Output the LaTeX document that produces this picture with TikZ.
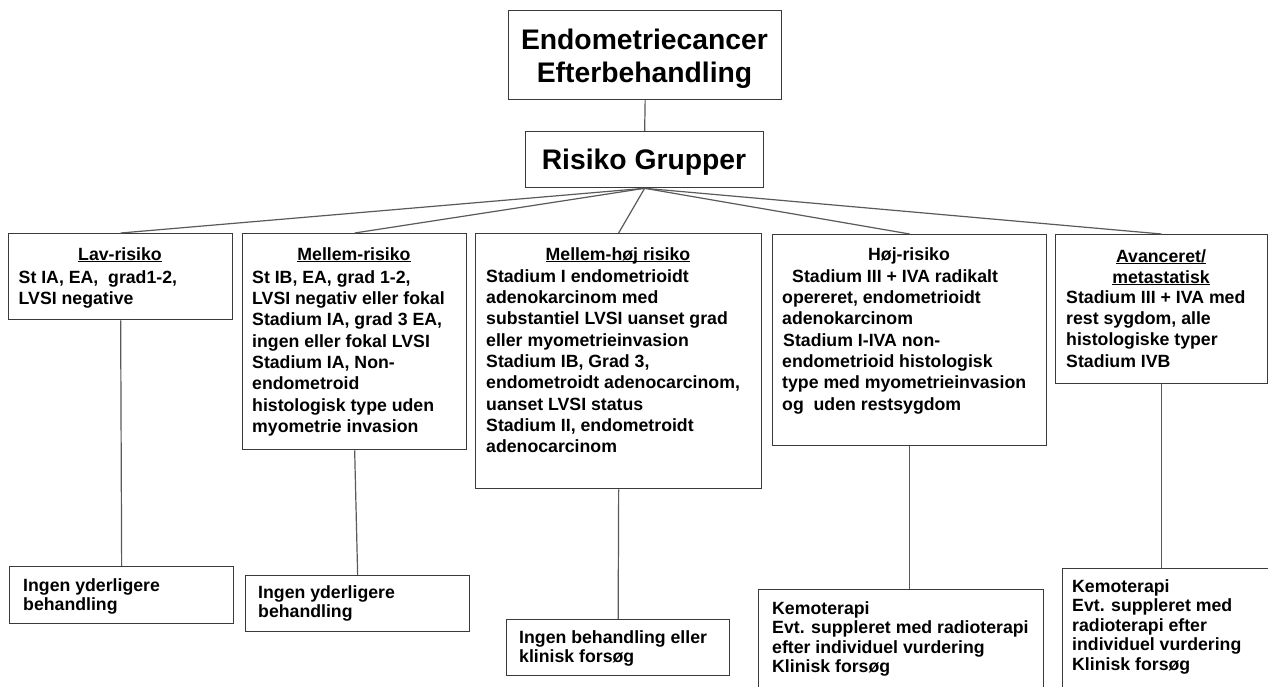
\documentclass[tikz,border=0pt]{standalone}
\usepackage{fontspec}
\setmainfont{Liberation Sans}
\definecolor{boxgray}{HTML}{3A3A3A}
\definecolor{linegray}{HTML}{5A5A5A}
\newcommand\undl[1]{\setbox0\hbox{#1}\rlap{\rule[-2.4pt]{\wd0}{1.1pt}}\box0}
\tikzset{
  box/.style={draw=boxgray, line width=1.3pt, fill=white, inner sep=0pt, anchor=north west},
  conn/.style={draw=linegray, line width=1.2pt},
  body/.style={anchor=north west, inner sep=0pt, align=left, font=\bfseries\fontsize{17.7}{21.3}\selectfont},
  low/.style={anchor=north west, inner sep=0pt, align=left, font=\bfseries\fontsize{17.7}{19.5}\selectfont},
  head/.style={anchor=base, inner sep=0pt, font=\bfseries\fontsize{17.7}{21.3}\selectfont},
  big/.style={anchor=north, inner sep=0pt, align=center, font=\bfseries\fontsize{28.3}{33}\selectfont}
}
\begin{document}
\begin{tikzpicture}[x=1pt,y=-1pt]
\useasboundingbox (0,0) rectangle (1268,687);
\clip (0,0) rectangle (1268,687);
\fill[white] (0,0) rectangle (1268,687);

% top boxes
\node[box, minimum width=273pt, minimum height=89pt] (title) at (508,10) {};
\node[big] (titletxt) at (644.5,25.9) {\strut Endometriecancer\\\strut Efterbehandling};
\node[box, minimum width=238pt, minimum height=56pt] (risk) at (525,131) {};
\node[anchor=base, inner sep=0pt, font=\bfseries\fontsize{28.3}{33}\selectfont] (risktxt) at (644,170) {Risiko Grupper};

% risk group boxes
\node[box, minimum width=224pt, minimum height=86pt] (m1) at (8,233) {};
\node[box, minimum width=224pt, minimum height=216pt] (m2) at (242,233) {};
\node[box, minimum width=286pt, minimum height=255pt] (m3) at (475,233) {};
\node[box, minimum width=274pt, minimum height=211pt] (m4) at (772,234) {};
\node[box, minimum width=212pt, minimum height=149pt] (m5) at (1055,234) {};

\node[head] (h1) at (120,260) {\undl{Lav-risiko}};
\node[body] (t1) at (18.5,268.1) {\strut St IA, EA,\ \ grad1-2,\\\strut LVSI negative};

\node[head] (h2) at (354,260) {\undl{Mellem-risiko}};
\node[body] (t2) at (252,268.1) {\strut St IB, EA, grad 1-2,\\\strut LVSI negativ eller fokal\\\strut Stadium IA, grad 3 EA,\\\strut ingen eller fokal LVSI\\\strut Stadium IA, Non-\\\strut endometroid\\\strut histologisk type uden\\\strut myometrie invasion};

\node[head] (h3) at (618,260) {\undl{Mellem-høj risiko}};
\node[body] (t3) at (486,267.1) {\strut Stadium I endometrioidt\\\strut adenokarcinom med\\\strut substantiel LVSI uanset grad\\\strut eller myometrieinvasion\\\strut Stadium IB, Grad 3,\\\strut endometroidt adenocarcinom,\\\strut uanset LVSI status\\\strut Stadium II, endometroidt\\\strut adenocarcinom};

\node[head] (h4) at (909,260) {Høj-risiko};
\node[body] (t4) at (782,267.1) {\strut\hspace{10pt}Stadium III + IVA radikalt\\\strut opereret, endometrioidt\\\strut adenokarcinom\\\strut\hspace{1pt}Stadium I-IVA non-\\\strut endometrioid histologisk\\\strut type med myometrieinvasion\\\strut og\ \ uden restsygdom};

\node[head] (h5a) at (1161,262) {\undl{Avanceret/}};
\node[head] (h5b) at (1161,283) {\undl{metastatisk}};
\node[body] (t5) at (1066,288.1) {\strut Stadium III + IVA med\\\strut rest sygdom, alle\\\strut histologiske typer\\\strut Stadium IVB};

% treatment boxes
\node[box, minimum width=224pt, minimum height=57pt] (b1) at (9,566) {};
\node[box, minimum width=224pt, minimum height=56pt] (b2) at (245,575) {};
\node[box, minimum width=223pt, minimum height=56pt] (b3) at (506,619) {};
\node[box, minimum width=285pt, minimum height=120pt] (b4) at (758,589) {};
\node[box, minimum width=240pt, minimum height=140pt] (b5) at (1062,568) {};

\node[low] (u1) at (23,577.3) {\strut Ingen yderligere\\\strut behandling};
\node[low] (u2) at (258,584.3) {\strut Ingen yderligere\\\strut behandling};
\node[low] (u3) at (519,629.3) {\strut Ingen behandling eller\\\strut klinisk forsøg};
\node[low] (u4) at (772,600.3) {\strut Kemoterapi\\\strut Evt. suppleret med radioterapi\\\strut efter individuel vurdering\\\strut Klinisk forsøg};
\node[low] (u5) at (1072,578.3) {\strut Kemoterapi\\\strut Evt. suppleret med\\\strut radioterapi efter\\\strut individuel vurdering\\\strut Klinisk forsøg};

% connectors
\draw[conn] (title.south) -- (risk.north);
\foreach \m in {m1,m2,m3,m4,m5}{\draw[conn] (risk.south) -- (\m.north);}
\draw[conn] (m1.south) -- (b1.north);
\draw[conn] (m2.south) -- (b2.north);
\draw[conn] (m3.south) -- (b3.north);
\draw[conn] (m4.south) -- (m4.south |- b4.north);
\draw[conn] (m5.south) -- (m5.south |- b5.north);
\end{tikzpicture}
\end{document}
